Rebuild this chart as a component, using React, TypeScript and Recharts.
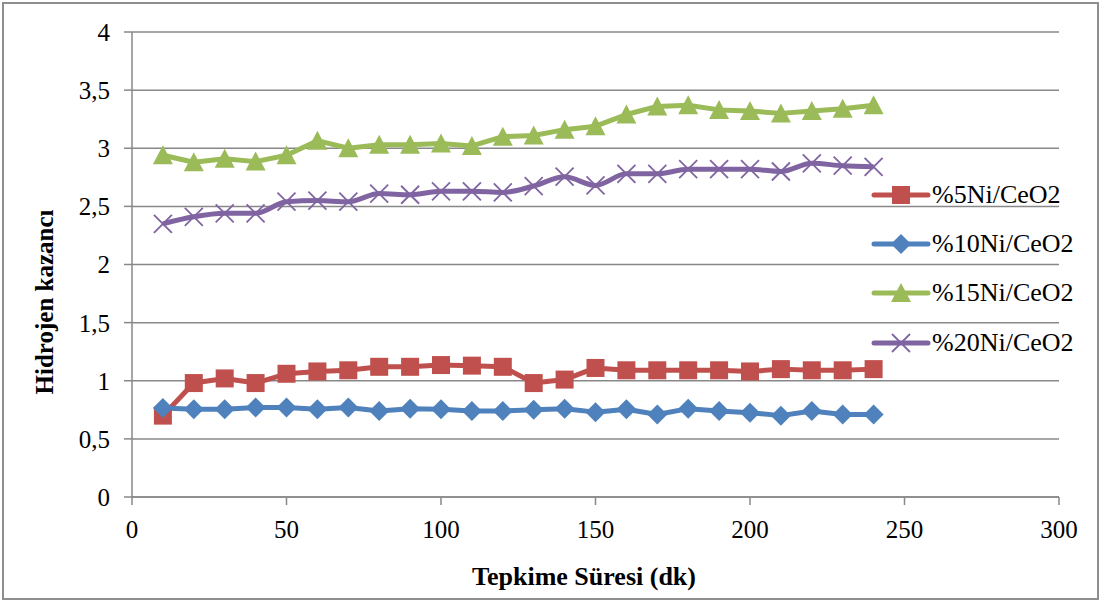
import { LineChart, Line, XAxis, YAxis, CartesianGrid, Legend } from 'recharts'

const SERIF = '"Times New Roman", "Liberation Serif", Times, "DejaVu Serif", serif'

// reaction time (dk)
const times = [10, 20, 30, 40, 50, 60, 70, 80, 90, 100, 110, 120, 130, 140, 150, 160, 170, 180, 190, 200, 210, 220, 230, 240]

const ni5 = [0.70, 0.98, 1.02, 0.98, 1.06, 1.08, 1.09, 1.12, 1.12, 1.135, 1.13, 1.12, 0.98, 1.01, 1.11, 1.09, 1.09, 1.09, 1.09, 1.08, 1.10, 1.09, 1.09, 1.10]
const ni10 = [0.765, 0.755, 0.755, 0.77, 0.77, 0.755, 0.77, 0.74, 0.76, 0.755, 0.74, 0.74, 0.75, 0.76, 0.73, 0.755, 0.71, 0.76, 0.74, 0.725, 0.70, 0.74, 0.71, 0.71]
const ni15 = [2.94, 2.88, 2.91, 2.885, 2.94, 3.065, 3.00, 3.03, 3.03, 3.04, 3.02, 3.10, 3.11, 3.16, 3.19, 3.29, 3.36, 3.37, 3.33, 3.32, 3.30, 3.32, 3.34, 3.37]
const ni20 = [2.35, 2.41, 2.44, 2.44, 2.54, 2.55, 2.54, 2.61, 2.60, 2.63, 2.63, 2.62, 2.675, 2.755, 2.68, 2.78, 2.78, 2.82, 2.82, 2.82, 2.80, 2.87, 2.85, 2.84]

const xTicks = [0, 50, 100, 150, 200, 250, 300]
const yTicks = [0, 0.5, 1, 1.5, 2, 2.5, 3, 3.5, 4]
const seriesOrder = ['ni5', 'ni10', 'ni15', 'ni20']

const data = times.map((t, i) => ({ t, ni5: ni5[i], ni10: ni10[i], ni15: ni15[i], ni20: ni20[i] }))

const RED = '#C0504D'
const BLUE = '#4F81BD'
const GREEN = '#9BBB59'
const PURPLE = '#8064A2'
const GRAY = '#888888'

type MarkerKind = 'square' | 'diamond' | 'triangle' | 'cross'

function Marker({ kind, cx, cy, color }: { kind: MarkerKind; cx: number; cy: number; color: string }) {
  if (kind === 'square') return <rect x={cx - 9} y={cy - 9} width={18} height={18} fill={color} />
  if (kind === 'diamond')
    return <polygon points={`${cx},${cy - 10} ${cx + 10},${cy} ${cx},${cy + 10} ${cx - 10},${cy}`} fill={color} />
  if (kind === 'triangle')
    return <polygon points={`${cx},${cy - 10} ${cx + 10},${cy + 9} ${cx - 10},${cy + 9}`} fill={color} />
  return (
    <g stroke={color} strokeWidth={1.8}>
      <line x1={cx - 9} y1={cy - 9} x2={cx + 9} y2={cy + 9} />
      <line x1={cx - 9} y1={cy + 9} x2={cx + 9} y2={cy - 9} />
    </g>
  )
}

const dotFor = (kind: MarkerKind, color: string) => (p: any) => (
  <g key={`${kind}-${p.index}`}>
    <Marker kind={kind} cx={p.cx} cy={p.cy} color={color} />
  </g>
)

const kinds: Record<string, MarkerKind> = { ni5: 'square', ni10: 'diamond', ni15: 'triangle', ni20: 'cross' }

const renderLegend = ({ payload }: any) => {
  const items = [...(payload || [])].sort(
    (a: any, b: any) => seriesOrder.indexOf(a.dataKey) - seriesOrder.indexOf(b.dataKey)
  )
  return (
    <div style={{ fontFamily: SERIF, fontSize: 26, color: '#000' }}>
      {items.map((e: any) => (
        <div key={e.dataKey} style={{ display: 'flex', alignItems: 'center', height: 49.3 }}>
          <svg width={60} height={24} style={{ overflow: 'visible' }}>
            <line x1={3} x2={57} y1={12} y2={12} stroke={e.color} strokeWidth={5} strokeLinecap="round" />
            <Marker kind={kinds[e.dataKey]} cx={30} cy={12} color={e.color} />
          </svg>
          <span style={{ marginLeft: 1, lineHeight: 1 }}>{e.value}</span>
        </div>
      ))}
    </div>
  )
}

const fmt = (v: number) => String(v).replace('.', ',')

export default function App() {
  return (
    <div style={{ position: 'absolute', left: 0, top: 0, width: 1102, height: 601, background: '#fff' }}>
      <div
        style={{
          position: 'absolute',
          left: 2,
          top: 2,
          width: 1093,
          height: 594,
          border: '2px solid #8e8e8e',
        }}
      />
      <LineChart width={1102} height={601} data={data} margin={{ top: 32, right: 43, left: 0, bottom: 0 }}>
        <CartesianGrid vertical={false} stroke={GRAY} strokeWidth={1.5} />
        <XAxis
          dataKey="t"
          type="number"
          domain={[0, 300]}
          ticks={xTicks}
          height={104}
          stroke={GRAY}
          strokeWidth={1.5}
          tickSize={8}
          tickMargin={15}
          tick={{ fontFamily: SERIF, fontSize: 25, fill: '#000' }}
          style={{ fontFamily: SERIF }}
          label={{
            content: () => (
              <text x={584} y={585} textAnchor="middle" fontFamily={SERIF} fontSize={26} fontWeight="bold" fill="#000">
                Tepkime Süresi (dk)
              </text>
            ),
          }}
        />
        <YAxis
          domain={[0, 4]}
          ticks={yTicks}
          width={132}
          stroke={GRAY}
          strokeWidth={1.5}
          tickSize={8}
          tickMargin={14}
          tickFormatter={fmt}
          tick={{ fontFamily: SERIF, fontSize: 25, fill: '#000' }}
          style={{ fontFamily: SERIF }}
          label={{
            content: () => (
              <text
                x={53}
                y={302}
                transform="rotate(-90, 53, 302)"
                textAnchor="middle"
                fontFamily={SERIF}
                fontSize={25}
                fontWeight="bold"
                fill="#000"
              >
                Hidrojen kazancı
              </text>
            ),
          }}
        />
        <Legend
          layout="vertical"
          align="center"
          verticalAlign="middle"
          content={renderLegend}
          wrapperStyle={{ left: 871, top: 170, width: 230 }}
        />
        <Line
          dataKey="ni5"
          name="%5Ni/CeO2"
          stroke={RED}
          strokeWidth={5}
          strokeLinejoin="round"
          type="linear"
          dot={dotFor('square', RED)}
          isAnimationActive={false}
        />
        <Line
          dataKey="ni10"
          name="%10Ni/CeO2"
          stroke={BLUE}
          strokeWidth={5}
          strokeLinejoin="round"
          type="linear"
          dot={dotFor('diamond', BLUE)}
          isAnimationActive={false}
        />
        <Line
          dataKey="ni15"
          name="%15Ni/CeO2"
          stroke={GREEN}
          strokeWidth={5}
          strokeLinejoin="round"
          type="linear"
          dot={dotFor('triangle', GREEN)}
          isAnimationActive={false}
        />
        <Line
          dataKey="ni20"
          name="%20Ni/CeO2"
          stroke={PURPLE}
          strokeWidth={5}
          strokeLinejoin="round"
          type="monotone"
          dot={dotFor('cross', PURPLE)}
          isAnimationActive={false}
        />
      </LineChart>
    </div>
  )
}
